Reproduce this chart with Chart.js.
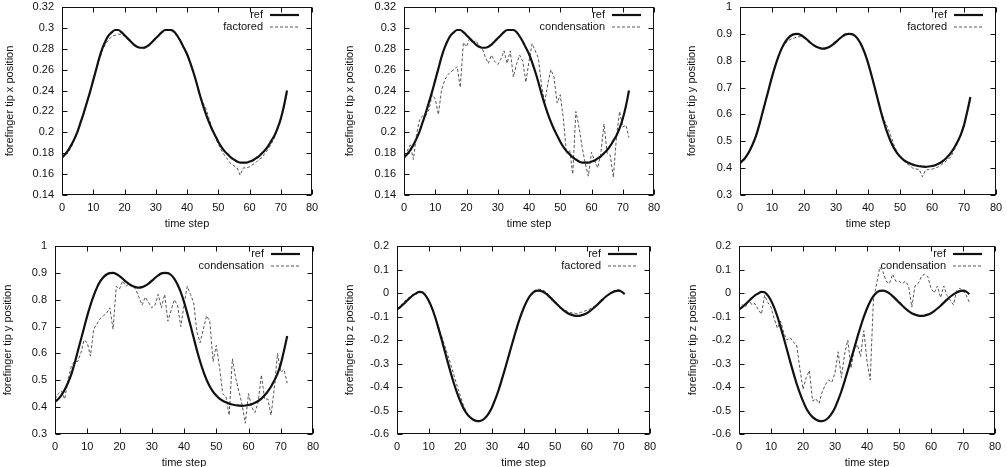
<!DOCTYPE html>
<html>
<head>
<meta charset="utf-8">
<script src="https://cdn.jsdelivr.net/npm/chart.js@4.4.1/dist/chart.umd.min.js"></script>
<style>
  html, body { margin: 0; padding: 0; background: #fff; overflow: hidden; }
  body { width: 1007px; height: 467px; position: relative; }
  .panel { position: absolute; }
</style>
</head>
<body>
<div class="panel" style="left:0;top:0;width:335px;height:235px"><canvas id="c1"></canvas></div>
<div class="panel" style="left:335px;top:0;width:335px;height:235px"><canvas id="c2"></canvas></div>
<div class="panel" style="left:670px;top:0;width:337px;height:235px"><canvas id="c3"></canvas></div>
<div class="panel" style="left:0;top:235px;width:335px;height:240px"><canvas id="c4"></canvas></div>
<div class="panel" style="left:335px;top:235px;width:335px;height:240px"><canvas id="c5"></canvas></div>
<div class="panel" style="left:670px;top:235px;width:337px;height:240px"><canvas id="c6"></canvas></div>
<script>
// tick labels
const timeTicks = ["0", "10", "20", "30", "40", "50", "60", "70", "80"];
const xPosTicks = ["0.14", "0.16", "0.18", "0.2", "0.22", "0.24", "0.26", "0.28", "0.3", "0.32"];
const yPosTicks = ["0.3", "0.4", "0.5", "0.6", "0.7", "0.8", "0.9", "1"];
const zPosTicks = ["-0.6", "-0.5", "-0.4", "-0.3", "-0.2", "-0.1", "0", "0.1", "0.2"];

// one value per time step (0..72)
const refX = [
  0.176, 0.179, 0.183, 0.188, 0.194, 0.201, 0.210, 0.219, 0.229, 0.239,
  0.250, 0.261, 0.272, 0.281, 0.288, 0.293, 0.296, 0.298, 0.298, 0.296,
  0.293, 0.290, 0.287, 0.284, 0.282, 0.281, 0.281, 0.282, 0.284, 0.287,
  0.290, 0.293, 0.296, 0.298, 0.298, 0.298, 0.296, 0.292, 0.287, 0.281,
  0.275, 0.267, 0.258, 0.248, 0.237, 0.227, 0.218, 0.210, 0.203, 0.197,
  0.191, 0.186, 0.182, 0.179, 0.176, 0.174, 0.172, 0.171, 0.171, 0.171,
  0.172, 0.173, 0.175, 0.177, 0.180, 0.183, 0.187, 0.192, 0.197, 0.204,
  0.213, 0.225, 0.240
];
const factoredX = [
  0.175, 0.178, 0.181, 0.186, 0.193, 0.200, 0.209, 0.218, 0.228, 0.238,
  0.249, 0.260, 0.270, 0.279, 0.285, 0.289, 0.292, 0.293, 0.294, 0.294,
  0.292, 0.289, 0.287, 0.284, 0.282, 0.281, 0.280, 0.281, 0.284, 0.287,
  0.290, 0.293, 0.296, 0.298, 0.298, 0.297, 0.295, 0.291, 0.286, 0.280,
  0.274, 0.266, 0.257, 0.248, 0.238, 0.229, 0.223, 0.214, 0.204, 0.196,
  0.189, 0.183, 0.178, 0.174, 0.170, 0.168, 0.166, 0.159, 0.166, 0.166,
  0.167, 0.169, 0.171, 0.174, 0.176, 0.180, 0.184, 0.189, 0.195, 0.203,
  0.211, 0.223, 0.237
];
const condensationX = [
  0.178, 0.182, 0.188, 0.174, 0.198, 0.212, 0.216, 0.216, 0.222, 0.236,
  0.232, 0.217, 0.240, 0.250, 0.255, 0.258, 0.260, 0.263, 0.243, 0.286,
  0.282, 0.290, 0.285, 0.288, 0.283, 0.281, 0.272, 0.266, 0.274, 0.268,
  0.265, 0.270, 0.278, 0.266, 0.278, 0.253, 0.265, 0.274, 0.268, 0.248,
  0.268, 0.285, 0.278, 0.271, 0.245, 0.228, 0.246, 0.260, 0.253, 0.228,
  0.236, 0.213, 0.180, 0.183, 0.160, 0.220, 0.205, 0.186, 0.170, 0.158,
  0.181, 0.173, 0.166, 0.180, 0.208, 0.180, 0.178, 0.157, 0.196, 0.220,
  0.205, 0.207, 0.195
];

const refY = [
  0.420, 0.430, 0.445, 0.465, 0.490, 0.520, 0.560, 0.605, 0.650, 0.695,
  0.740, 0.780, 0.815, 0.845, 0.868, 0.884, 0.894, 0.899, 0.900, 0.896,
  0.888, 0.878, 0.867, 0.858, 0.851, 0.847, 0.845, 0.847, 0.852, 0.860,
  0.870, 0.881, 0.891, 0.898, 0.900, 0.899, 0.892, 0.878, 0.857, 0.828,
  0.792, 0.750, 0.705, 0.658, 0.612, 0.570, 0.533, 0.502, 0.477, 0.458,
  0.443, 0.432, 0.424, 0.418, 0.413, 0.410, 0.407, 0.406, 0.405, 0.406,
  0.408, 0.411, 0.416, 0.423, 0.432, 0.444, 0.459, 0.477, 0.499, 0.525,
  0.560, 0.610, 0.665
];
const factoredY = [
  0.415, 0.425, 0.440, 0.462, 0.488, 0.518, 0.558, 0.603, 0.650, 0.696,
  0.741, 0.781, 0.815, 0.843, 0.862, 0.874, 0.881, 0.885, 0.889, 0.890,
  0.884, 0.876, 0.866, 0.857, 0.850, 0.846, 0.844, 0.846, 0.851, 0.859,
  0.869, 0.880, 0.890, 0.897, 0.899, 0.897, 0.890, 0.876, 0.855, 0.826,
  0.790, 0.749, 0.705, 0.660, 0.616, 0.580, 0.555, 0.525, 0.490, 0.462,
  0.442, 0.428, 0.418, 0.410, 0.400, 0.397, 0.395, 0.368, 0.393, 0.395,
  0.396, 0.400, 0.405, 0.413, 0.422, 0.432, 0.444, 0.470, 0.493, 0.520,
  0.556, 0.605, 0.655
];
const condensationY = [
  0.43, 0.45, 0.46, 0.43, 0.50, 0.55, 0.57, 0.57, 0.60, 0.65,
  0.64, 0.59, 0.69, 0.71, 0.73, 0.74, 0.75, 0.77, 0.69, 0.85,
  0.84, 0.87, 0.85, 0.86, 0.85, 0.84, 0.81, 0.78, 0.81, 0.79,
  0.77, 0.78, 0.82, 0.77, 0.82, 0.72, 0.76, 0.80, 0.78, 0.70,
  0.78, 0.85, 0.82, 0.79, 0.68, 0.64, 0.69, 0.74, 0.72, 0.57,
  0.63, 0.55, 0.45, 0.44, 0.37, 0.58, 0.51, 0.46, 0.41, 0.34,
  0.45, 0.40, 0.38, 0.42, 0.52, 0.43, 0.43, 0.37, 0.47, 0.60,
  0.53, 0.54, 0.49
];

const refZ = [
  -0.070, -0.060, -0.048, -0.035, -0.022, -0.010, -0.002, 0.005, 0.003, -0.010,
  -0.032, -0.062, -0.100, -0.145, -0.192, -0.242, -0.292, -0.340, -0.385, -0.425,
  -0.460, -0.490, -0.512, -0.528, -0.538, -0.544, -0.545, -0.541, -0.530, -0.512,
  -0.488, -0.455, -0.418, -0.375, -0.330, -0.283, -0.235, -0.188, -0.143, -0.102,
  -0.066, -0.036, -0.013, 0.002, 0.009, 0.010, 0.006, -0.002, -0.013, -0.026,
  -0.040, -0.053, -0.066, -0.077, -0.086, -0.092, -0.096, -0.097, -0.096, -0.092,
  -0.086, -0.077, -0.066, -0.054, -0.041, -0.028, -0.016, -0.006, 0.002, 0.008,
  0.010, 0.006, -0.005
];
const factoredZ = [
  -0.068, -0.055, -0.040, -0.028, -0.018, -0.008, 0.000, 0.005, 0.003, -0.008,
  -0.030, -0.060, -0.097, -0.138, -0.180, -0.220, -0.262, -0.305, -0.350, -0.395,
  -0.438, -0.478, -0.508, -0.527, -0.538, -0.544, -0.545, -0.541, -0.530, -0.512,
  -0.487, -0.455, -0.417, -0.374, -0.329, -0.282, -0.234, -0.187, -0.142, -0.101,
  -0.065, -0.034, -0.010, 0.006, 0.014, 0.016, 0.014, 0.005, -0.008, -0.022,
  -0.036, -0.050, -0.062, -0.072, -0.079, -0.084, -0.086, -0.088, -0.083, -0.078,
  -0.074, -0.068, -0.060, -0.050, -0.039, -0.027, -0.015, -0.005, 0.003, 0.010,
  0.015, 0.008, -0.002
];
const condensationZ = [
  -0.07, -0.05, -0.06, -0.03, -0.05, -0.045, -0.07, -0.09, -0.01, -0.04,
  -0.06, -0.11, -0.15, -0.12, -0.17, -0.20, -0.19, -0.21, -0.22, -0.32,
  -0.41, -0.36, -0.33, -0.46, -0.45, -0.47, -0.42, -0.39, -0.37, -0.38,
  -0.34, -0.25, -0.36, -0.26, -0.20, -0.32, -0.24, -0.22, -0.27, -0.16,
  -0.29, -0.37, -0.03, 0.04, 0.11, 0.09, 0.05, 0.04, 0.08, 0.05,
  0.05, 0.04, 0.05, 0.03, -0.06, 0.03, 0.04, 0.07, 0.08, 0.07,
  0.02, 0.00, 0.03, -0.02, 0.03, -0.01, -0.03, -0.05, 0.01, 0.02,
  0.01, -0.01, -0.04
];

const FONT = { family: "'Liberation Sans', Arial, sans-serif", size: 11 };
const INK = "#111";

// gnuplot style box, inward ticks and key
const gnuFrame = {
  id: "gnuFrame",
  afterDatasetsDraw(chart) {
    const { ctx, chartArea: a, scales } = chart;
    const L = Math.round(a.left) + 0.5, R = Math.round(a.right) - 0.5;
    const T = Math.round(a.top) + 0.5, B = Math.round(a.bottom) - 0.5;
    ctx.save();
    ctx.strokeStyle = INK;
    ctx.lineWidth = 1;
    ctx.strokeRect(L, T, R - L, B - T);
    ctx.beginPath();
    scales.x.ticks.forEach((t) => {
      const p = Math.round(scales.x.getPixelForValue(t.value)) + 0.5;
      ctx.moveTo(p, B); ctx.lineTo(p, B - 5);
      ctx.moveTo(p, T); ctx.lineTo(p, T + 5);
    });
    scales.y.ticks.forEach((t) => {
      const p = Math.round(scales.y.getPixelForValue(t.value)) + 0.5;
      ctx.moveTo(L, p); ctx.lineTo(L + 5, p);
      ctx.moveTo(R, p); ctx.lineTo(R - 5, p);
    });
    ctx.stroke();

    // key
    ctx.font = FONT.size + "px " + FONT.family;
    ctx.textAlign = "right";
    ctx.textBaseline = "middle";
    chart.data.datasets.forEach((ds, i) => {
      const yy = a.top + 8 + i * 12;
      ctx.fillStyle = INK;
      ctx.fillText(ds.label, a.right - 49, yy);
      ctx.beginPath();
      ctx.strokeStyle = ds.borderColor;
      ctx.lineWidth = ds.borderWidth;
      ctx.setLineDash(ds.borderDash || []);
      ctx.moveTo(a.right - 42, yy);
      ctx.lineTo(a.right - 13, yy);
      ctx.stroke();
      ctx.setLineDash([]);
    });
    ctx.restore();
  },
};

function toPoints(values) {
  return values.map((v, i) => ({ x: i, y: v }));
}

function makePanel(id, yTitle, yTicks, ref, other, otherLabel, g) {
  const ctx = document.getElementById(id).getContext("2d");
  new Chart(ctx, {
    type: "line",
    data: {
      datasets: [
        {
          label: "ref",
          data: toPoints(ref),
          borderColor: INK,
          borderWidth: 2.2,
          pointRadius: 0,
          cubicInterpolationMode: "monotone",
        },
        {
          label: otherLabel,
          data: toPoints(other),
          borderColor: "#555",
          borderWidth: 1,
          borderDash: [3, 2],
          pointRadius: 0,
          tension: 0,
        },
      ],
    },
    options: {
      responsive: true,
      maintainAspectRatio: false,
      animation: false,
      events: [],
      layout: { padding: { left: 0, top: g.top, right: g.right, bottom: 0 } },
      plugins: { legend: { display: false }, tooltip: { enabled: false } },
      scales: {
        x: {
          type: "linear",
          min: Number(timeTicks[0]),
          max: Number(timeTicks[timeTicks.length - 1]),
          afterBuildTicks: (s) => { s.ticks = timeTicks.map((t) => ({ value: Number(t) })); },
          afterFit: (s) => { s.height = g.xh; s.paddingLeft = 0; s.paddingRight = 0; },
          grid: { display: false, drawTicks: false },
          border: { display: false },
          ticks: {
            font: FONT, color: INK, padding: 6, maxRotation: 0, autoSkip: false,
            callback: (v, i) => timeTicks[i],
          },
          title: {
            display: true, text: "time step", font: FONT, color: INK,
            padding: { top: 0, bottom: g.xtp },
          },
        },
        y: {
          type: "linear",
          min: Number(yTicks[0]),
          max: Number(yTicks[yTicks.length - 1]),
          afterBuildTicks: (s) => { s.ticks = yTicks.map((t) => ({ value: Number(t) })); },
          afterFit: (s) => { s.width = g.yw; s.paddingTop = 0; s.paddingBottom = 0; },
          grid: { display: false, drawTicks: false },
          border: { display: false },
          ticks: {
            font: FONT, color: INK, padding: 8, autoSkip: false,
            callback: (v, i) => yTicks[i],
          },
          title: {
            display: true, text: yTitle, font: FONT, color: INK,
            padding: { top: g.ytp, bottom: 0 },
          },
        },
      },
    },
    plugins: [gnuFrame],
  });
}

makePanel("c1", "forefinger tip x position", xPosTicks, refX, factoredX, "factored",
  { top: 7, right: 23, xh: 40, yw: 62, ytp: 3, xtp: 4 });
makePanel("c2", "forefinger tip x position", xPosTicks, refX, condensationX, "condensation",
  { top: 7, right: 16, xh: 40, yw: 69, ytp: 8, xtp: 4 });
makePanel("c3", "forefinger tip y position", yPosTicks, refY, factoredY, "factored",
  { top: 7, right: 11, xh: 40, yw: 70, ytp: 15, xtp: 4 });
makePanel("c4", "forefinger tip y position", yPosTicks, refY, condensationY, "condensation",
  { top: 11, right: 22, xh: 41, yw: 55, ytp: 1, xtp: 5 });
makePanel("c5", "forefinger tip z position", zPosTicks, refZ, factoredZ, "factored",
  { top: 11, right: 20, xh: 41, yw: 62, ytp: 8, xtp: 5 });
makePanel("c6", "forefinger tip z position", zPosTicks, refZ, condensationZ, "condensation",
  { top: 11, right: 12, xh: 41, yw: 69, ytp: 16, xtp: 5 });
</script>
</body>
</html>
